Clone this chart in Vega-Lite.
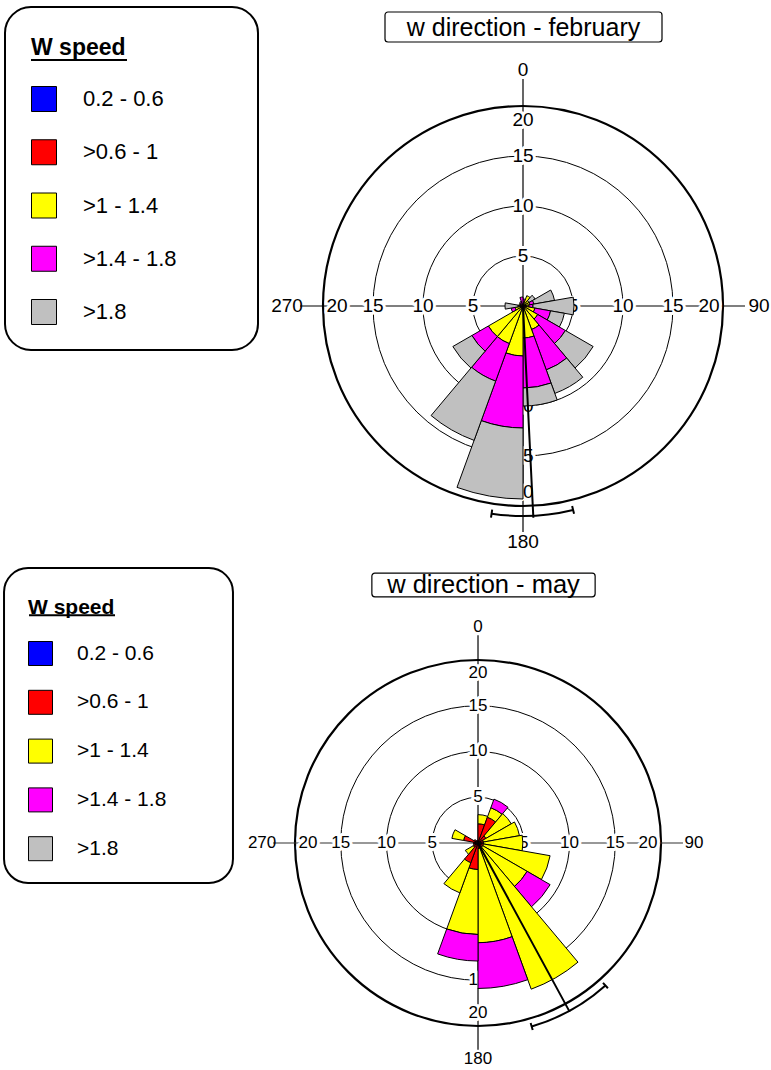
{
  "$schema": "https://vega.github.io/schema/vega-lite/v6.json",
  "padding": 0,
  "spacing": 0,
  "config": {
    "view": {"stroke": null},
    "font": "Liberation Sans",
    "text": {"font": "Liberation Sans", "color": "black"}
  },
  "datasets": {
    "rose": [
      {"m": "feb", "from": 0, "to": 20, "spd": ">0.6 - 1", "pct": 0.2},
      {"m": "feb", "from": 0, "to": 20, "spd": ">1 - 1.4", "pct": 0.2},
      {"m": "feb", "from": 0, "to": 20, "spd": ">1.4 - 1.8", "pct": 0.3},
      {"m": "feb", "from": 20, "to": 40, "spd": ">0.6 - 1", "pct": 0.2},
      {"m": "feb", "from": 20, "to": 40, "spd": ">1 - 1.4", "pct": 0.9},
      {"m": "feb", "from": 40, "to": 60, "spd": ">0.6 - 1", "pct": 0.2},
      {"m": "feb", "from": 40, "to": 60, "spd": ">1 - 1.4", "pct": 0.5},
      {"m": "feb", "from": 40, "to": 60, "spd": ">1.8", "pct": 0.7},
      {"m": "feb", "from": 60, "to": 80, "spd": ">0.6 - 1", "pct": 0.2},
      {"m": "feb", "from": 60, "to": 80, "spd": ">1 - 1.4", "pct": 0.5},
      {"m": "feb", "from": 60, "to": 80, "spd": ">1.4 - 1.8", "pct": 0.4},
      {"m": "feb", "from": 60, "to": 80, "spd": ">1.8", "pct": 2.1},
      {"m": "feb", "from": 80, "to": 100, "spd": ">0.6 - 1", "pct": 0.2},
      {"m": "feb", "from": 80, "to": 100, "spd": ">1 - 1.4", "pct": 0.4},
      {"m": "feb", "from": 80, "to": 100, "spd": ">1.4 - 1.8", "pct": 0.4},
      {"m": "feb", "from": 80, "to": 100, "spd": ">1.8", "pct": 4.1},
      {"m": "feb", "from": 100, "to": 120, "spd": ">0.6 - 1", "pct": 0.3},
      {"m": "feb", "from": 100, "to": 120, "spd": ">1 - 1.4", "pct": 0.9},
      {"m": "feb", "from": 100, "to": 120, "spd": ">1.4 - 1.8", "pct": 1.6},
      {"m": "feb", "from": 100, "to": 120, "spd": ">1.8", "pct": 1.4},
      {"m": "feb", "from": 120, "to": 140, "spd": ">0.6 - 1", "pct": 0.3},
      {"m": "feb", "from": 120, "to": 140, "spd": ">1 - 1.4", "pct": 1.4},
      {"m": "feb", "from": 120, "to": 140, "spd": ">1.4 - 1.8", "pct": 3.2},
      {"m": "feb", "from": 120, "to": 140, "spd": ">1.8", "pct": 3.2},
      {"m": "feb", "from": 140, "to": 160, "spd": ">0.6 - 1", "pct": 0.3},
      {"m": "feb", "from": 140, "to": 160, "spd": ">1 - 1.4", "pct": 2.2},
      {"m": "feb", "from": 140, "to": 160, "spd": ">1.4 - 1.8", "pct": 4.3},
      {"m": "feb", "from": 140, "to": 160, "spd": ">1.8", "pct": 2.5},
      {"m": "feb", "from": 160, "to": 180, "spd": ">0.6 - 1", "pct": 0.3},
      {"m": "feb", "from": 160, "to": 180, "spd": ">1 - 1.4", "pct": 2.9},
      {"m": "feb", "from": 160, "to": 180, "spd": ">1.4 - 1.8", "pct": 5.0},
      {"m": "feb", "from": 160, "to": 180, "spd": ">1.8", "pct": 1.8},
      {"m": "feb", "from": 180, "to": 200, "spd": ">0.6 - 1", "pct": 0.3},
      {"m": "feb", "from": 180, "to": 200, "spd": ">1 - 1.4", "pct": 4.7},
      {"m": "feb", "from": 180, "to": 200, "spd": ">1.4 - 1.8", "pct": 7.2},
      {"m": "feb", "from": 180, "to": 200, "spd": ">1.8", "pct": 7.1},
      {"m": "feb", "from": 200, "to": 220, "spd": ">0.6 - 1", "pct": 0.3},
      {"m": "feb", "from": 200, "to": 220, "spd": ">1 - 1.4", "pct": 3.7},
      {"m": "feb", "from": 200, "to": 220, "spd": ">1.4 - 1.8", "pct": 4.0},
      {"m": "feb", "from": 200, "to": 220, "spd": ">1.8", "pct": 6.3},
      {"m": "feb", "from": 220, "to": 240, "spd": ">0.6 - 1", "pct": 0.3},
      {"m": "feb", "from": 220, "to": 240, "spd": ">1 - 1.4", "pct": 3.7},
      {"m": "feb", "from": 220, "to": 240, "spd": ">1.4 - 1.8", "pct": 1.9},
      {"m": "feb", "from": 220, "to": 240, "spd": ">1.8", "pct": 2.2},
      {"m": "feb", "from": 240, "to": 260, "spd": ">0.6 - 1", "pct": 0.2},
      {"m": "feb", "from": 240, "to": 260, "spd": ">1 - 1.4", "pct": 0.6},
      {"m": "feb", "from": 240, "to": 260, "spd": ">1.4 - 1.8", "pct": 0.4},
      {"m": "feb", "from": 260, "to": 280, "spd": ">0.6 - 1", "pct": 0.2},
      {"m": "feb", "from": 260, "to": 280, "spd": ">1 - 1.4", "pct": 0.3},
      {"m": "feb", "from": 260, "to": 280, "spd": ">1.8", "pct": 1.3},
      {"m": "feb", "from": 280, "to": 300, "spd": ">0.6 - 1", "pct": 0.2},
      {"m": "feb", "from": 280, "to": 300, "spd": ">1 - 1.4", "pct": 0.2},
      {"m": "feb", "from": 300, "to": 320, "spd": ">0.6 - 1", "pct": 0.2},
      {"m": "feb", "from": 300, "to": 320, "spd": ">1 - 1.4", "pct": 0.2},
      {"m": "feb", "from": 320, "to": 340, "spd": ">0.6 - 1", "pct": 0.2},
      {"m": "feb", "from": 320, "to": 340, "spd": ">1.4 - 1.8", "pct": 0.3},
      {"m": "feb", "from": 340, "to": 360, "spd": ">0.6 - 1", "pct": 0.2},
      {"m": "feb", "from": 340, "to": 360, "spd": ">1.4 - 1.8", "pct": 0.7},

      {"m": "may", "from": 0, "to": 20, "spd": ">0.6 - 1", "pct": 2.1},
      {"m": "may", "from": 0, "to": 20, "spd": ">1 - 1.4", "pct": 1.0},
      {"m": "may", "from": 20, "to": 40, "spd": ">0.6 - 1", "pct": 3.0},
      {"m": "may", "from": 20, "to": 40, "spd": ">1 - 1.4", "pct": 1.1},
      {"m": "may", "from": 20, "to": 40, "spd": ">1.4 - 1.8", "pct": 1.0},
      {"m": "may", "from": 40, "to": 60, "spd": ">0.6 - 1", "pct": 1.0},
      {"m": "may", "from": 40, "to": 60, "spd": ">1 - 1.4", "pct": 3.2},
      {"m": "may", "from": 60, "to": 80, "spd": ">0.6 - 1", "pct": 0.6},
      {"m": "may", "from": 60, "to": 80, "spd": ">1 - 1.4", "pct": 4.0},
      {"m": "may", "from": 80, "to": 100, "spd": ">0.6 - 1", "pct": 0.6},
      {"m": "may", "from": 80, "to": 100, "spd": ">1 - 1.4", "pct": 4.3},
      {"m": "may", "from": 100, "to": 120, "spd": ">0.6 - 1", "pct": 0.6},
      {"m": "may", "from": 100, "to": 120, "spd": ">1 - 1.4", "pct": 7.4},
      {"m": "may", "from": 120, "to": 140, "spd": ">0.6 - 1", "pct": 0.6},
      {"m": "may", "from": 120, "to": 140, "spd": ">1 - 1.4", "pct": 5.6},
      {"m": "may", "from": 120, "to": 140, "spd": ">1.4 - 1.8", "pct": 2.9},
      {"m": "may", "from": 140, "to": 160, "spd": ">0.6 - 1", "pct": 0.6},
      {"m": "may", "from": 140, "to": 160, "spd": ">1 - 1.4", "pct": 16.4},
      {"m": "may", "from": 160, "to": 180, "spd": ">0.6 - 1", "pct": 0.6},
      {"m": "may", "from": 160, "to": 180, "spd": ">1 - 1.4", "pct": 10.3},
      {"m": "may", "from": 160, "to": 180, "spd": ">1.4 - 1.8", "pct": 5.0},
      {"m": "may", "from": 180, "to": 200, "spd": ">0.6 - 1", "pct": 2.9},
      {"m": "may", "from": 180, "to": 200, "spd": ">1 - 1.4", "pct": 7.1},
      {"m": "may", "from": 180, "to": 200, "spd": ">1.4 - 1.8", "pct": 2.9},
      {"m": "may", "from": 200, "to": 220, "spd": ">0.6 - 1", "pct": 2.3},
      {"m": "may", "from": 200, "to": 220, "spd": ">1 - 1.4", "pct": 3.5},
      {"m": "may", "from": 220, "to": 240, "spd": ">0.6 - 1", "pct": 0.6},
      {"m": "may", "from": 220, "to": 240, "spd": ">1 - 1.4", "pct": 1.0},
      {"m": "may", "from": 240, "to": 260, "spd": ">0.6 - 1", "pct": 0.5},
      {"m": "may", "from": 260, "to": 280, "spd": ">0.6 - 1", "pct": 0.5},
      {"m": "may", "from": 280, "to": 300, "spd": ">0.6 - 1", "pct": 1.6},
      {"m": "may", "from": 280, "to": 300, "spd": ">1 - 1.4", "pct": 1.3},
      {"m": "may", "from": 300, "to": 320, "spd": ">0.6 - 1", "pct": 0.5},
      {"m": "may", "from": 320, "to": 340, "spd": ">0.6 - 1", "pct": 0.3},
      {"m": "may", "from": 340, "to": 360, "spd": ">0.6 - 1", "pct": 0.3}
    ],
    "stats": [
      {"m": "feb", "mean": 177.2, "lo": 166.2, "hi": 188.6},
      {"m": "may", "mean": 151.5, "lo": 138.2, "hi": 163.7}
    ],
    "ticks": [
      {"lab": "5", "val": 5, "dir": 0}, {"lab": "10", "val": 10, "dir": 0}, {"lab": "15", "val": 15, "dir": 0}, {"lab": "20", "val": 20, "dir": 0},
      {"lab": "5", "val": 5, "dir": 90}, {"lab": "10", "val": 10, "dir": 90}, {"lab": "15", "val": 15, "dir": 90}, {"lab": "20", "val": 20, "dir": 90},
      {"lab": "5", "val": 5, "dir": 180}, {"lab": "10", "val": 10, "dir": 180}, {"lab": "15", "val": 15, "dir": 180}, {"lab": "20", "val": 20, "dir": 180},
      {"lab": "5", "val": 5, "dir": 270}, {"lab": "10", "val": 10, "dir": 270}, {"lab": "15", "val": 15, "dir": 270}, {"lab": "20", "val": 20, "dir": 270}
    ],
    "dirs": [
      {"lab": "0", "dir": 0}, {"lab": "90", "dir": 90}, {"lab": "180", "dir": 180}, {"lab": "270", "dir": 270}
    ],
    "titles": [
      {"m": "feb", "title": "w direction - february"},
      {"m": "may", "title": "w direction - may"}
    ]
  },
  "resolve": {
    "scale": {"x": "independent", "y": "independent", "theta": "independent", "radius": "independent", "color": "independent"},
    "legend": {"color": "independent"}
  },
  "vconcat": [
    {
      "width": 771,
      "height": 560,
      "layer": [
        {
          "data": {"values": [{}]},
          "mark": {"type": "rect", "fill": "white", "stroke": "black", "strokeWidth": 2, "cornerRadius": 26},
          "encoding": {
            "x": {"datum": -51.8, "type": "quantitative", "scale": {"domain": [-52.3, 24.8], "nice": false, "zero": false}, "axis": null},
            "x2": {"datum": -26.5},
            "y": {"datum": 29.9, "type": "quantitative", "scale": {"domain": [-25.4, 30.6], "nice": false, "zero": false}, "axis": null},
            "y2": {"datum": -4.4}
          }
        },
        {
          "data": {"values": [{}]},
          "mark": {"type": "rule", "color": "black", "strokeWidth": 2},
          "encoding": {
            "x": {"datum": -49.2, "type": "quantitative", "scale": {"domain": [-52.3, 24.8], "nice": false, "zero": false}, "axis": null},
            "x2": {"datum": -39.6},
            "y": {"datum": 24.6, "type": "quantitative", "scale": {"domain": [-25.4, 30.6], "nice": false, "zero": false}, "axis": null}
          }
        },
        {
          "data": {"values": [{"ring": 5}, {"ring": 10}, {"ring": 15}]},
          "mark": {"type": "arc", "filled": false, "stroke": "black", "strokeWidth": 1},
          "encoding": {
            "x": {"datum": 0, "type": "quantitative", "scale": {"domain": [-52.3, 24.8], "nice": false, "zero": false}, "axis": null},
            "y": {"datum": 0, "type": "quantitative", "scale": {"domain": [-25.4, 30.6], "nice": false, "zero": false}, "axis": null},
            "theta": {"datum": 0, "type": "quantitative", "stack": null, "scale": {"domain": [0, 360], "range": [0, 6.283185307179586]}},
            "theta2": {"datum": 360},
            "radius": {"field": "ring", "type": "quantitative", "stack": null, "scale": {"type": "linear", "domain": [0, 20], "range": [0, 200], "zero": true, "nice": false}}
          }
        },
        {
          "data": {"values": [{"ring": 20}]},
          "mark": {"type": "arc", "filled": false, "stroke": "black", "strokeWidth": 2.2},
          "encoding": {
            "x": {"datum": 0, "type": "quantitative", "scale": {"domain": [-52.3, 24.8], "nice": false, "zero": false}, "axis": null},
            "y": {"datum": 0, "type": "quantitative", "scale": {"domain": [-25.4, 30.6], "nice": false, "zero": false}, "axis": null},
            "theta": {"datum": 0, "type": "quantitative", "stack": null, "scale": {"domain": [0, 360], "range": [0, 6.283185307179586]}},
            "theta2": {"datum": 360},
            "radius": {"field": "ring", "type": "quantitative", "stack": null, "scale": {"type": "linear", "domain": [0, 20], "range": [0, 200], "zero": true, "nice": false}}
          }
        },
        {
          "data": {"values": [{}]},
          "mark": {"type": "rule", "color": "black", "strokeWidth": 1.2},
          "encoding": {
            "x": {"datum": 0, "type": "quantitative", "scale": {"domain": [-52.3, 24.8], "nice": false, "zero": false}, "axis": null},
            "y": {"datum": -22.6, "type": "quantitative", "scale": {"domain": [-25.4, 30.6], "nice": false, "zero": false}, "axis": null},
            "y2": {"datum": 22.7}
          }
        },
        {
          "data": {"values": [{}]},
          "mark": {"type": "rule", "color": "black", "strokeWidth": 1.2},
          "encoding": {
            "x": {"datum": -22.3, "type": "quantitative", "scale": {"domain": [-52.3, 24.8], "nice": false, "zero": false}, "axis": null},
            "x2": {"datum": 22.2},
            "y": {"datum": 0, "type": "quantitative", "scale": {"domain": [-25.4, 30.6], "nice": false, "zero": false}, "axis": null}
          }
        },
        {
          "data": {"name": "ticks"},
          "transform": [{"filter": "datum.val < 20"}],
          "mark": {"type": "text", "fontSize": 19, "color": "white", "stroke": "white", "strokeWidth": 6, "strokeJoin": "round", "align": "center", "baseline": "middle"},
          "encoding": {
            "x": {"datum": 0, "type": "quantitative", "scale": {"domain": [-52.3, 24.8], "nice": false, "zero": false}, "axis": null},
            "y": {"datum": 0, "type": "quantitative", "scale": {"domain": [-25.4, 30.6], "nice": false, "zero": false}, "axis": null},
            "theta": {"field": "dir", "type": "quantitative", "scale": {"domain": [0, 360], "range": [0, 6.283185307179586]}},
            "radius": {"field": "val", "type": "quantitative", "scale": {"type": "linear", "domain": [0, 20], "range": [0, 200], "zero": true, "nice": false}},
            "text": {"field": "lab"}
          }
        },
        {
          "data": {"name": "ticks"},
          "transform": [{"filter": "datum.val < 20"}],
          "mark": {"type": "text", "fontSize": 19, "color": "black", "align": "center", "baseline": "middle"},
          "encoding": {
            "x": {"datum": 0, "type": "quantitative", "scale": {"domain": [-52.3, 24.8], "nice": false, "zero": false}, "axis": null},
            "y": {"datum": 0, "type": "quantitative", "scale": {"domain": [-25.4, 30.6], "nice": false, "zero": false}, "axis": null},
            "theta": {"field": "dir", "type": "quantitative", "scale": {"domain": [0, 360], "range": [0, 6.283185307179586]}},
            "radius": {"field": "val", "type": "quantitative", "scale": {"type": "linear", "domain": [0, 20], "range": [0, 200], "zero": true, "nice": false}},
            "text": {"field": "lab"}
          }
        },
        {
          "data": {"name": "ticks"},
          "transform": [{"filter": "datum.val == 20"}],
          "mark": {"type": "text", "fontSize": 19, "color": "white", "stroke": "white", "strokeWidth": 6, "strokeJoin": "round", "align": "center", "baseline": "middle", "radiusOffset": -14},
          "encoding": {
            "x": {"datum": 0, "type": "quantitative", "scale": {"domain": [-52.3, 24.8], "nice": false, "zero": false}, "axis": null},
            "y": {"datum": 0, "type": "quantitative", "scale": {"domain": [-25.4, 30.6], "nice": false, "zero": false}, "axis": null},
            "theta": {"field": "dir", "type": "quantitative", "scale": {"domain": [0, 360], "range": [0, 6.283185307179586]}},
            "radius": {"field": "val", "type": "quantitative", "scale": {"type": "linear", "domain": [0, 20], "range": [0, 200], "zero": true, "nice": false}},
            "text": {"field": "lab"}
          }
        },
        {
          "data": {"name": "ticks"},
          "transform": [{"filter": "datum.val == 20"}],
          "mark": {"type": "text", "fontSize": 19, "color": "black", "align": "center", "baseline": "middle", "radiusOffset": -14},
          "encoding": {
            "x": {"datum": 0, "type": "quantitative", "scale": {"domain": [-52.3, 24.8], "nice": false, "zero": false}, "axis": null},
            "y": {"datum": 0, "type": "quantitative", "scale": {"domain": [-25.4, 30.6], "nice": false, "zero": false}, "axis": null},
            "theta": {"field": "dir", "type": "quantitative", "scale": {"domain": [0, 360], "range": [0, 6.283185307179586]}},
            "radius": {"field": "val", "type": "quantitative", "scale": {"type": "linear", "domain": [0, 20], "range": [0, 200], "zero": true, "nice": false}},
            "text": {"field": "lab"}
          }
        },
        {
          "data": {"name": "dirs"},
          "mark": {"type": "text", "fontSize": 19, "color": "black", "align": "center", "baseline": "middle"},
          "encoding": {
            "x": {"datum": 0, "type": "quantitative", "scale": {"domain": [-52.3, 24.8], "nice": false, "zero": false}, "axis": null},
            "y": {"datum": 0, "type": "quantitative", "scale": {"domain": [-25.4, 30.6], "nice": false, "zero": false}, "axis": null},
            "theta": {"field": "dir", "type": "quantitative", "scale": {"domain": [0, 360], "range": [0, 6.283185307179586]}},
            "radius": {"datum": 23.6, "type": "quantitative", "scale": {"type": "linear", "domain": [0, 20], "range": [0, 200], "zero": true, "nice": false}},
            "text": {"field": "lab"}
          }
        },
        {
          "data": {"name": "rose"},
          "transform": [
            {"filter": "datum.m == 'feb'"},
            {"stack": "pct", "groupby": ["from"], "sort": [{"field": "spd", "order": "ascending"}], "as": ["r0", "r1"]}
          ],
          "mark": {"type": "arc", "stroke": "black", "strokeWidth": 1, "strokeJoin": "miter"},
          "encoding": {
            "x": {"datum": 0, "type": "quantitative", "scale": {"domain": [-52.3, 24.8], "nice": false, "zero": false}, "axis": null},
            "y": {"datum": 0, "type": "quantitative", "scale": {"domain": [-25.4, 30.6], "nice": false, "zero": false}, "axis": null},
            "theta": {"field": "from", "type": "quantitative", "stack": null, "scale": {"domain": [0, 360], "range": [0, 6.283185307179586]}},
            "theta2": {"field": "to"},
            "radius": {"field": "r1", "type": "quantitative", "stack": null, "scale": {"type": "linear", "domain": [0, 20], "range": [0, 200], "zero": true, "nice": false}},
            "radius2": {"field": "r0"},
            "color": {
              "field": "spd",
              "type": "nominal",
              "scale": {
                "domain": ["0.2 - 0.6", ">0.6 - 1", ">1 - 1.4", ">1.4 - 1.8", ">1.8"],
                "range": ["#0000ff", "#ff0000", "#ffff00", "#ff00ff", "#c0c0c0"]
              },
              "legend": {
                "title": "W speed",
                "orient": "none",
                "legendX": 31,
                "legendY": 37,
                "padding": 0,
                "symbolType": "square",
                "symbolSize": 625,
                "symbolStrokeColor": "black",
                "symbolStrokeWidth": 1,
                "symbolOpacity": 1,
                "labelFont": "Liberation Sans",
                "labelFontSize": 22,
                "labelColor": "black",
                "labelOffset": 26,
                "rowPadding": 23.25,
                "titleFont": "Liberation Sans",
                "titleFontSize": 23,
                "titleFontWeight": "bold",
                "titleColor": "black",
                "titlePadding": 26
              }
            }
          }
        },
        {
          "data": {"name": "stats"},
          "transform": [{"filter": "datum.m == 'feb'"}],
          "mark": {"type": "arc", "filled": false, "stroke": "black", "strokeWidth": 2},
          "encoding": {
            "x": {"datum": 0, "type": "quantitative", "scale": {"domain": [-52.3, 24.8], "nice": false, "zero": false}, "axis": null},
            "y": {"datum": 0, "type": "quantitative", "scale": {"domain": [-25.4, 30.6], "nice": false, "zero": false}, "axis": null},
            "theta": {"field": "mean", "type": "quantitative", "stack": null, "scale": {"domain": [0, 360], "range": [0, 6.283185307179586]}},
            "theta2": {"field": "mean"},
            "radius": {"datum": 21.2, "type": "quantitative", "stack": null, "scale": {"type": "linear", "domain": [0, 20], "range": [0, 200], "zero": true, "nice": false}},
            "radius2": {"datum": 0}
          }
        },
        {
          "data": {"name": "stats"},
          "transform": [{"filter": "datum.m == 'feb'"}],
          "mark": {"type": "arc", "filled": false, "stroke": "black", "strokeWidth": 2},
          "encoding": {
            "x": {"datum": 0, "type": "quantitative", "scale": {"domain": [-52.3, 24.8], "nice": false, "zero": false}, "axis": null},
            "y": {"datum": 0, "type": "quantitative", "scale": {"domain": [-25.4, 30.6], "nice": false, "zero": false}, "axis": null},
            "theta": {"field": "lo", "type": "quantitative", "stack": null, "scale": {"domain": [0, 360], "range": [0, 6.283185307179586]}},
            "theta2": {"field": "hi"},
            "radius": {"datum": 21.0, "type": "quantitative", "stack": null, "scale": {"type": "linear", "domain": [0, 20], "range": [0, 200], "zero": true, "nice": false}},
            "radius2": {"datum": 21.0}
          }
        },
        {
          "data": {"name": "stats"},
          "transform": [{"filter": "datum.m == 'feb'"}, {"fold": ["lo", "hi"], "as": ["end", "ang"]}],
          "mark": {"type": "arc", "filled": false, "stroke": "black", "strokeWidth": 2},
          "encoding": {
            "x": {"datum": 0, "type": "quantitative", "scale": {"domain": [-52.3, 24.8], "nice": false, "zero": false}, "axis": null},
            "y": {"datum": 0, "type": "quantitative", "scale": {"domain": [-25.4, 30.6], "nice": false, "zero": false}, "axis": null},
            "theta": {"field": "ang", "type": "quantitative", "stack": null, "scale": {"domain": [0, 360], "range": [0, 6.283185307179586]}},
            "theta2": {"field": "ang"},
            "radius": {"datum": 21.4, "type": "quantitative", "stack": null, "scale": {"type": "linear", "domain": [0, 20], "range": [0, 200], "zero": true, "nice": false}},
            "radius2": {"datum": 20.6}
          }
        },
        {
          "data": {"name": "titles"},
          "transform": [{"filter": "datum.m == 'feb'"}],
          "mark": {"type": "rect", "fill": "white", "stroke": "black", "strokeWidth": 1.2, "cornerRadius": 3},
          "encoding": {
            "x": {"datum": -13.8, "type": "quantitative", "scale": {"domain": [-52.3, 24.8], "nice": false, "zero": false}, "axis": null},
            "x2": {"datum": 13.9},
            "y": {"datum": 29.4, "type": "quantitative", "scale": {"domain": [-25.4, 30.6], "nice": false, "zero": false}, "axis": null},
            "y2": {"datum": 26.4}
          }
        },
        {
          "data": {"name": "titles"},
          "transform": [{"filter": "datum.m == 'feb'"}],
          "mark": {"type": "text", "fontSize": 25, "color": "black", "align": "center", "baseline": "middle"},
          "encoding": {
            "x": {"datum": 0.05, "type": "quantitative", "scale": {"domain": [-52.3, 24.8], "nice": false, "zero": false}, "axis": null},
            "y": {"datum": 27.8, "type": "quantitative", "scale": {"domain": [-25.4, 30.6], "nice": false, "zero": false}, "axis": null},
            "text": {"field": "title"}
          }
        }
      ]
    },
    {
      "width": 771,
      "height": 510,
      "layer": [
        {
          "data": {"values": [{}]},
          "mark": {"type": "rect", "fill": "white", "stroke": "black", "strokeWidth": 2, "cornerRadius": 24},
          "encoding": {
            "x": {"datum": -51.8, "type": "quantitative", "scale": {"domain": [-52.24, 32.02], "nice": false, "zero": false}, "axis": null},
            "x2": {"datum": -26.78},
            "y": {"datum": 30.05, "type": "quantitative", "scale": {"domain": [-24.81, 30.93], "nice": false, "zero": false}, "axis": null},
            "y2": {"datum": -4.37}
          }
        },
        {
          "data": {"values": [{}]},
          "mark": {"type": "rule", "color": "black", "strokeWidth": 2},
          "encoding": {
            "x": {"datum": -49.07, "type": "quantitative", "scale": {"domain": [-52.24, 32.02], "nice": false, "zero": false}, "axis": null},
            "x2": {"datum": -39.67},
            "y": {"datum": 24.9, "type": "quantitative", "scale": {"domain": [-24.81, 30.93], "nice": false, "zero": false}, "axis": null}
          }
        },
        {
          "data": {"values": [{"ring": 5}, {"ring": 10}, {"ring": 15}]},
          "mark": {"type": "arc", "filled": false, "stroke": "black", "strokeWidth": 1},
          "encoding": {
            "x": {"datum": 0, "type": "quantitative", "scale": {"domain": [-52.24, 32.02], "nice": false, "zero": false}, "axis": null},
            "y": {"datum": 0, "type": "quantitative", "scale": {"domain": [-24.81, 30.93], "nice": false, "zero": false}, "axis": null},
            "theta": {"datum": 0, "type": "quantitative", "stack": null, "scale": {"domain": [0, 360], "range": [0, 6.283185307179586]}},
            "theta2": {"datum": 360},
            "radius": {"field": "ring", "type": "quantitative", "stack": null, "scale": {"type": "linear", "domain": [0, 20], "range": [0, 183], "zero": true, "nice": false}}
          }
        },
        {
          "data": {"values": [{"ring": 20}]},
          "mark": {"type": "arc", "filled": false, "stroke": "black", "strokeWidth": 2.2},
          "encoding": {
            "x": {"datum": 0, "type": "quantitative", "scale": {"domain": [-52.24, 32.02], "nice": false, "zero": false}, "axis": null},
            "y": {"datum": 0, "type": "quantitative", "scale": {"domain": [-24.81, 30.93], "nice": false, "zero": false}, "axis": null},
            "theta": {"datum": 0, "type": "quantitative", "stack": null, "scale": {"domain": [0, 360], "range": [0, 6.283185307179586]}},
            "theta2": {"datum": 360},
            "radius": {"field": "ring", "type": "quantitative", "stack": null, "scale": {"type": "linear", "domain": [0, 20], "range": [0, 183], "zero": true, "nice": false}}
          }
        },
        {
          "data": {"values": [{}]},
          "mark": {"type": "rule", "color": "black", "strokeWidth": 1.2},
          "encoding": {
            "x": {"datum": 0, "type": "quantitative", "scale": {"domain": [-52.24, 32.02], "nice": false, "zero": false}, "axis": null},
            "y": {"datum": -22.6, "type": "quantitative", "scale": {"domain": [-24.81, 30.93], "nice": false, "zero": false}, "axis": null},
            "y2": {"datum": 22.7}
          }
        },
        {
          "data": {"values": [{}]},
          "mark": {"type": "rule", "color": "#333333", "strokeWidth": 1.2},
          "encoding": {
            "x": {"datum": -22.4, "type": "quantitative", "scale": {"domain": [-52.24, 32.02], "nice": false, "zero": false}, "axis": null},
            "x2": {"datum": 22.4},
            "y": {"datum": 0, "type": "quantitative", "scale": {"domain": [-24.81, 30.93], "nice": false, "zero": false}, "axis": null}
          }
        },
        {
          "data": {"name": "ticks"},
          "transform": [{"filter": "datum.val < 20"}],
          "mark": {"type": "text", "fontSize": 17, "color": "white", "stroke": "white", "strokeWidth": 6, "strokeJoin": "round", "align": "center", "baseline": "middle"},
          "encoding": {
            "x": {"datum": 0, "type": "quantitative", "scale": {"domain": [-52.24, 32.02], "nice": false, "zero": false}, "axis": null},
            "y": {"datum": 0, "type": "quantitative", "scale": {"domain": [-24.81, 30.93], "nice": false, "zero": false}, "axis": null},
            "theta": {"field": "dir", "type": "quantitative", "scale": {"domain": [0, 360], "range": [0, 6.283185307179586]}},
            "radius": {"field": "val", "type": "quantitative", "scale": {"type": "linear", "domain": [0, 20], "range": [0, 183], "zero": true, "nice": false}},
            "text": {"field": "lab"}
          }
        },
        {
          "data": {"name": "ticks"},
          "transform": [{"filter": "datum.val < 20"}],
          "mark": {"type": "text", "fontSize": 17, "color": "black", "align": "center", "baseline": "middle"},
          "encoding": {
            "x": {"datum": 0, "type": "quantitative", "scale": {"domain": [-52.24, 32.02], "nice": false, "zero": false}, "axis": null},
            "y": {"datum": 0, "type": "quantitative", "scale": {"domain": [-24.81, 30.93], "nice": false, "zero": false}, "axis": null},
            "theta": {"field": "dir", "type": "quantitative", "scale": {"domain": [0, 360], "range": [0, 6.283185307179586]}},
            "radius": {"field": "val", "type": "quantitative", "scale": {"type": "linear", "domain": [0, 20], "range": [0, 183], "zero": true, "nice": false}},
            "text": {"field": "lab"}
          }
        },
        {
          "data": {"name": "ticks"},
          "transform": [{"filter": "datum.val == 20"}],
          "mark": {"type": "text", "fontSize": 17, "color": "white", "stroke": "white", "strokeWidth": 6, "strokeJoin": "round", "align": "center", "baseline": "middle", "radiusOffset": -13},
          "encoding": {
            "x": {"datum": 0, "type": "quantitative", "scale": {"domain": [-52.24, 32.02], "nice": false, "zero": false}, "axis": null},
            "y": {"datum": 0, "type": "quantitative", "scale": {"domain": [-24.81, 30.93], "nice": false, "zero": false}, "axis": null},
            "theta": {"field": "dir", "type": "quantitative", "scale": {"domain": [0, 360], "range": [0, 6.283185307179586]}},
            "radius": {"field": "val", "type": "quantitative", "scale": {"type": "linear", "domain": [0, 20], "range": [0, 183], "zero": true, "nice": false}},
            "text": {"field": "lab"}
          }
        },
        {
          "data": {"name": "ticks"},
          "transform": [{"filter": "datum.val == 20"}],
          "mark": {"type": "text", "fontSize": 17, "color": "black", "align": "center", "baseline": "middle", "radiusOffset": -13},
          "encoding": {
            "x": {"datum": 0, "type": "quantitative", "scale": {"domain": [-52.24, 32.02], "nice": false, "zero": false}, "axis": null},
            "y": {"datum": 0, "type": "quantitative", "scale": {"domain": [-24.81, 30.93], "nice": false, "zero": false}, "axis": null},
            "theta": {"field": "dir", "type": "quantitative", "scale": {"domain": [0, 360], "range": [0, 6.283185307179586]}},
            "radius": {"field": "val", "type": "quantitative", "scale": {"type": "linear", "domain": [0, 20], "range": [0, 183], "zero": true, "nice": false}},
            "text": {"field": "lab"}
          }
        },
        {
          "data": {"name": "dirs"},
          "mark": {"type": "text", "fontSize": 17, "color": "black", "align": "center", "baseline": "middle"},
          "encoding": {
            "x": {"datum": 0, "type": "quantitative", "scale": {"domain": [-52.24, 32.02], "nice": false, "zero": false}, "axis": null},
            "y": {"datum": 0, "type": "quantitative", "scale": {"domain": [-24.81, 30.93], "nice": false, "zero": false}, "axis": null},
            "theta": {"field": "dir", "type": "quantitative", "scale": {"domain": [0, 360], "range": [0, 6.283185307179586]}},
            "radius": {"datum": 23.6, "type": "quantitative", "scale": {"type": "linear", "domain": [0, 20], "range": [0, 183], "zero": true, "nice": false}},
            "text": {"field": "lab"}
          }
        },
        {
          "data": {"name": "rose"},
          "transform": [
            {"filter": "datum.m == 'may'"},
            {"stack": "pct", "groupby": ["from"], "sort": [{"field": "spd", "order": "ascending"}], "as": ["r0", "r1"]}
          ],
          "mark": {"type": "arc", "stroke": "black", "strokeWidth": 1, "strokeJoin": "miter"},
          "encoding": {
            "x": {"datum": 0, "type": "quantitative", "scale": {"domain": [-52.24, 32.02], "nice": false, "zero": false}, "axis": null},
            "y": {"datum": 0, "type": "quantitative", "scale": {"domain": [-24.81, 30.93], "nice": false, "zero": false}, "axis": null},
            "theta": {"field": "from", "type": "quantitative", "stack": null, "scale": {"domain": [0, 360], "range": [0, 6.283185307179586]}},
            "theta2": {"field": "to"},
            "radius": {"field": "r1", "type": "quantitative", "stack": null, "scale": {"type": "linear", "domain": [0, 20], "range": [0, 183], "zero": true, "nice": false}},
            "radius2": {"field": "r0"},
            "color": {
              "field": "spd",
              "type": "nominal",
              "scale": {
                "domain": ["0.2 - 0.6", ">0.6 - 1", ">1 - 1.4", ">1.4 - 1.8", ">1.8"],
                "range": ["#0000ff", "#ff0000", "#ffff00", "#ff00ff", "#c0c0c0"]
              },
              "legend": {
                "title": "W speed",
                "orient": "none",
                "legendX": 28,
                "legendY": 37,
                "padding": 0,
                "symbolType": "square",
                "symbolSize": 576,
                "symbolStrokeColor": "black",
                "symbolStrokeWidth": 1,
                "symbolOpacity": 1,
                "labelFont": "Liberation Sans",
                "labelFontSize": 21,
                "labelColor": "black",
                "labelOffset": 24,
                "rowPadding": 19.8,
                "titleFont": "Liberation Sans",
                "titleFontSize": 21,
                "titleFontWeight": "bold",
                "titleColor": "black",
                "titlePadding": 23
              }
            }
          }
        },
        {
          "data": {"name": "stats"},
          "transform": [{"filter": "datum.m == 'may'"}],
          "mark": {"type": "arc", "filled": false, "stroke": "black", "strokeWidth": 2},
          "encoding": {
            "x": {"datum": 0, "type": "quantitative", "scale": {"domain": [-52.24, 32.02], "nice": false, "zero": false}, "axis": null},
            "y": {"datum": 0, "type": "quantitative", "scale": {"domain": [-24.81, 30.93], "nice": false, "zero": false}, "axis": null},
            "theta": {"field": "mean", "type": "quantitative", "stack": null, "scale": {"domain": [0, 360], "range": [0, 6.283185307179586]}},
            "theta2": {"field": "mean"},
            "radius": {"datum": 21.0, "type": "quantitative", "stack": null, "scale": {"type": "linear", "domain": [0, 20], "range": [0, 183], "zero": true, "nice": false}},
            "radius2": {"datum": 0}
          }
        },
        {
          "data": {"name": "stats"},
          "transform": [{"filter": "datum.m == 'may'"}],
          "mark": {"type": "arc", "filled": false, "stroke": "black", "strokeWidth": 2},
          "encoding": {
            "x": {"datum": 0, "type": "quantitative", "scale": {"domain": [-52.24, 32.02], "nice": false, "zero": false}, "axis": null},
            "y": {"datum": 0, "type": "quantitative", "scale": {"domain": [-24.81, 30.93], "nice": false, "zero": false}, "axis": null},
            "theta": {"field": "lo", "type": "quantitative", "stack": null, "scale": {"domain": [0, 360], "range": [0, 6.283185307179586]}},
            "theta2": {"field": "hi"},
            "radius": {"datum": 20.9, "type": "quantitative", "stack": null, "scale": {"type": "linear", "domain": [0, 20], "range": [0, 183], "zero": true, "nice": false}},
            "radius2": {"datum": 20.9}
          }
        },
        {
          "data": {"name": "stats"},
          "transform": [{"filter": "datum.m == 'may'"}, {"fold": ["lo", "hi"], "as": ["end", "ang"]}],
          "mark": {"type": "arc", "filled": false, "stroke": "black", "strokeWidth": 2},
          "encoding": {
            "x": {"datum": 0, "type": "quantitative", "scale": {"domain": [-52.24, 32.02], "nice": false, "zero": false}, "axis": null},
            "y": {"datum": 0, "type": "quantitative", "scale": {"domain": [-24.81, 30.93], "nice": false, "zero": false}, "axis": null},
            "theta": {"field": "ang", "type": "quantitative", "stack": null, "scale": {"domain": [0, 360], "range": [0, 6.283185307179586]}},
            "theta2": {"field": "ang"},
            "radius": {"datum": 21.3, "type": "quantitative", "stack": null, "scale": {"type": "linear", "domain": [0, 20], "range": [0, 183], "zero": true, "nice": false}},
            "radius2": {"datum": 20.5}
          }
        },
        {
          "data": {"name": "titles"},
          "transform": [{"filter": "datum.m == 'may'"}],
          "mark": {"type": "rect", "fill": "white", "stroke": "black", "strokeWidth": 1.2, "cornerRadius": 3},
          "encoding": {
            "x": {"datum": -11.6, "type": "quantitative", "scale": {"domain": [-52.24, 32.02], "nice": false, "zero": false}, "axis": null},
            "x2": {"datum": 12.8},
            "y": {"datum": 29.5, "type": "quantitative", "scale": {"domain": [-24.81, 30.93], "nice": false, "zero": false}, "axis": null},
            "y2": {"datum": 26.9}
          }
        },
        {
          "data": {"name": "titles"},
          "transform": [{"filter": "datum.m == 'may'"}],
          "mark": {"type": "text", "fontSize": 25.5, "color": "black", "align": "center", "baseline": "middle"},
          "encoding": {
            "x": {"datum": 0.6, "type": "quantitative", "scale": {"domain": [-52.24, 32.02], "nice": false, "zero": false}, "axis": null},
            "y": {"datum": 28.15, "type": "quantitative", "scale": {"domain": [-24.81, 30.93], "nice": false, "zero": false}, "axis": null},
            "text": {"field": "title"}
          }
        }
      ]
    }
  ]
}
